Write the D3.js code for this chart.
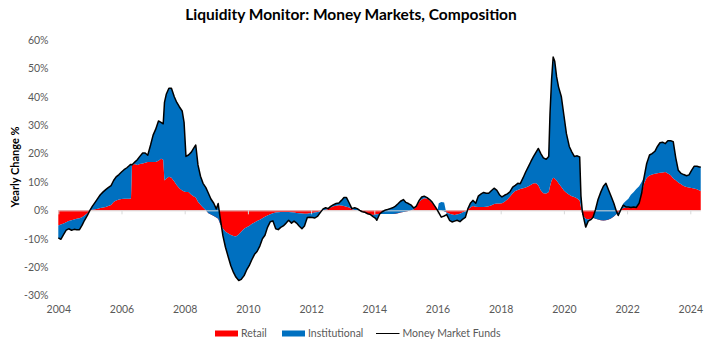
<!DOCTYPE html>
<html><head><meta charset="utf-8">
<script src="https://cdn.jsdelivr.net/npm/d3@7"></script>
<style>
html,body{margin:0;padding:0;background:#fff;}
svg{display:block;font-family:Lato,"Open Sans",sans-serif;}
</style></head>
<body><svg id="c" width="728" height="345"></svg>
<script>
// ---- data (yearly change, %) ----
const dates = [2004.00,2004.08,2004.17,2004.25,2004.33,2004.42,2004.50,2004.58,2004.67,2004.75,2004.83,2004.92,
2005.00,2005.08,2005.17,2005.25,2005.33,2005.42,2005.50,2005.58,2005.67,2005.75,2005.83,2005.92,
2006.00,2006.08,2006.17,2006.25,2006.30,2006.33,2006.42,2006.50,2006.58,2006.67,2006.75,2006.83,2006.92,
2007.00,2007.08,2007.17,2007.25,2007.32,2007.36,2007.42,2007.50,2007.58,2007.67,2007.75,2007.83,2007.92,2007.98,
2008.04,2008.12,2008.21,2008.29,2008.35,2008.42,2008.50,2008.58,2008.67,2008.75,2008.83,2008.92,
2009.00,2009.06,2009.12,2009.21,2009.29,2009.38,2009.46,2009.54,2009.62,2009.71,2009.79,2009.88,2009.96,
2010.04,2010.12,2010.21,2010.29,2010.38,2010.46,2010.54,2010.62,2010.71,2010.79,2010.88,2010.96,
2011.04,2011.12,2011.21,2011.29,2011.38,2011.46,2011.54,2011.62,2011.71,2011.79,2011.88,2011.96,
2012.04,2012.12,2012.21,2012.29,2012.38,2012.46,2012.54,2012.62,2012.71,2012.79,2012.88,2012.96,
2013.04,2013.12,2013.21,2013.29,2013.38,2013.46,2013.54,2013.62,2013.71,2013.79,2013.88,2013.96,
2014.04,2014.08,2014.17,2014.25,2014.33,2014.42,2014.50,2014.58,2014.67,2014.75,2014.83,2014.92,
2015.00,2015.08,2015.17,2015.25,2015.33,2015.42,2015.50,2015.58,2015.67,2015.75,2015.83,2015.92,
2016.00,2016.04,2016.12,2016.21,2016.29,2016.38,2016.46,2016.54,2016.62,2016.71,2016.79,2016.88,2016.96,
2017.04,2017.12,2017.21,2017.29,2017.38,2017.46,2017.54,2017.62,2017.71,2017.79,2017.88,2017.96,
2018.04,2018.12,2018.21,2018.29,2018.38,2018.46,2018.54,2018.62,2018.71,2018.79,2018.88,2018.96,
2019.04,2019.12,2019.19,2019.27,2019.35,2019.44,2019.52,2019.56,2019.61,2019.66,2019.71,2019.77,2019.83,2019.92,
2020.00,2020.08,2020.17,2020.25,2020.33,2020.42,2020.50,2020.54,2020.58,2020.62,2020.69,2020.77,2020.85,2020.92,
2021.00,2021.08,2021.17,2021.25,2021.33,2021.42,2021.50,2021.58,2021.65,2021.72,2021.79,2021.88,2021.96,
2022.04,2022.12,2022.21,2022.29,2022.38,2022.46,2022.54,2022.62,2022.71,2022.79,2022.88,2022.96,
2023.04,2023.12,2023.21,2023.29,2023.38,2023.46,2023.54,2023.62,2023.71,2023.79,2023.88,2023.96,
2024.04,2024.12,2024.21,2024.29,2024.33];

const retail = [-5.3,-5.0,-4.6,-4.2,-3.8,-3.5,-3.2,-3.0,-2.8,-2.4,-1.8,-1.0,
0.0,0.2,0.4,0.6,0.8,1.0,1.2,1.5,1.9,2.9,3.5,3.8,
4.0,4.1,4.1,4.1,4.2,15.8,16.3,16.0,16.3,16.5,16.8,17.0,17.0,
17.0,17.0,17.5,18.2,17.8,10.5,11.2,11.8,11.5,10.2,8.8,7.8,7.0,6.6,
6.5,6.5,5.5,4.9,4.5,3.0,2.0,1.0,0.0,-1.0,-1.5,-2.0,
-2.5,-3.0,-4.7,-6.5,-7.5,-8.2,-8.7,-9.0,-9.2,-8.5,-7.5,-6.5,-6.0,
-5.5,-4.8,-4.3,-3.8,-3.3,-2.8,-2.3,-1.8,-1.4,-1.0,-0.8,-0.7,
-0.6,-0.6,-0.6,-0.6,-0.7,-0.8,-0.9,-1.0,-1.1,-1.2,-1.2,-1.0,
-0.9,-0.8,-0.6,-0.3,0.0,0.2,0.5,1.0,1.4,1.6,1.8,1.7,
1.5,1.3,1.0,0.4,0.1,0.0,-0.2,-0.5,-0.9,-1.3,-1.5,-1.6,
-1.5,-1.4,-1.3,-1.3,-1.3,-1.3,-1.3,-1.3,-1.2,-1.0,-0.8,-0.6,
-0.4,-0.2,0.0,0.4,1.3,3.0,3.8,4.3,4.2,3.5,2.6,1.5,
0.3,0.0,0.0,-0.3,-0.8,-1.2,-1.5,-1.6,-1.5,-1.2,-0.8,-0.3,0.3,
1.0,1.5,1.3,1.2,1.2,1.2,1.3,1.4,1.8,2.2,2.4,2.4,
2.5,3.0,3.8,4.8,6.0,6.8,7.2,7.5,7.8,8.0,8.5,9.0,
9.5,9.5,8.8,7.0,6.0,5.9,6.5,8.5,10.5,11.5,11.2,10.5,9.5,8.2,
7.0,6.2,5.5,5.0,4.7,4.2,3.5,1.0,-1.5,-2.0,-3.0,-3.2,-3.0,-2.6,
-3.0,-3.2,-3.5,-3.6,-3.5,-3.2,-2.8,-2.2,-1.5,-0.8,0.0,0.8,1.0,
1.0,1.0,1.0,1.0,2.5,6.0,9.5,11.5,12.3,12.6,12.9,13.1,
13.2,13.3,13.5,13.0,12.4,11.2,10.6,9.8,9.2,8.6,8.2,8.0,
7.9,7.7,7.4,7.0,6.8];

const institutional = [-4.4,-5.2,-3.9,-2.8,-2.7,-3.5,-3.5,-3.8,-4.0,-2.9,-1.7,-0.8,
0.0,1.3,2.5,3.6,4.7,5.5,6.1,6.5,6.8,7.6,8.3,8.8,
9.5,10.2,10.9,11.7,12.0,0.2,0.7,1.8,2.7,3.7,3.4,2.4,6.0,
9.5,11.5,14.0,12.8,12.7,27.5,29.8,31.2,31.5,29.8,29.2,28.7,28.0,24.4,
12.5,13.0,15.0,17.1,18.5,13.0,10.0,8.5,8.0,7.0,5.5,4.5,
3.0,5.4,2.2,-2.5,-5.5,-8.3,-10.8,-12.8,-14.3,-16.2,-16.8,-16.5,-15.0,
-14.0,-12.7,-11.2,-10.7,-9.2,-7.2,-6.5,-4.2,-2.6,-2.7,-5.7,-6.1,
-5.4,-4.9,-3.9,-2.9,-3.8,-3.0,-3.6,-4.5,-5.4,-4.3,-1.3,-1.4,
-1.6,-1.9,-1.4,-0.5,0.5,0.7,0.1,0.4,0.6,0.8,0.8,1.8,
3.0,3.2,1.5,0.2,0.8,0.6,0.2,0.0,0.2,0.1,0.0,-0.6,
-1.3,-2.1,0.0,0.8,1.3,1.6,1.9,2.2,2.7,3.3,4.0,4.4,
3.2,2.6,1.8,0.4,0.2,0.5,0.9,0.7,0.3,0.3,0.3,-0.1,
-0.3,2.5,2.9,3.1,-0.7,-2.3,-2.6,-2.2,-2.0,-2.8,-2.4,-2.2,0.2,
1.5,2.0,1.2,3.8,4.6,5.1,4.7,4.6,5.2,5.6,4.6,3.1,
2.2,2.3,2.0,1.7,2.2,2.0,2.3,1.9,3.7,5.5,7.0,8.3,
9.5,11.0,13.0,13.0,12.5,12.1,12.5,25.5,35.5,42.5,41.3,36.5,34.0,31.8,
26.5,20.8,17.0,15.6,14.3,15.0,15.3,4.0,1.5,-0.4,-2.9,-0.6,-0.3,0.1,
3.3,7.0,10.0,12.1,13.0,10.2,7.6,4.7,1.5,-1.0,0.0,1.6,2.3,
3.1,4.5,5.5,6.5,6.0,4.0,2.3,5.0,7.2,7.4,7.9,9.4,
10.6,10.7,10.0,11.5,12.1,13.0,7.9,4.3,3.8,4.0,4.0,4.5,
6.2,7.8,8.1,8.3,8.5];

const moneyMarketFunds = [-9.7,-10.2,-8.5,-7.0,-6.5,-7.0,-6.7,-6.8,-6.8,-5.3,-3.5,-1.8,
0.0,1.5,2.9,4.2,5.5,6.5,7.3,8.0,8.7,10.5,11.8,12.6,
13.5,14.3,15.0,15.8,16.2,16.0,17.0,17.8,19.0,20.2,20.2,19.4,23.0,
26.5,28.5,31.5,31.0,30.5,38.0,41.0,43.0,43.0,40.0,38.0,36.5,35.0,31.0,
19.0,19.5,20.5,22.0,23.0,16.0,12.0,9.5,8.0,6.0,4.0,2.5,
0.5,2.4,-2.5,-9.0,-13.0,-16.5,-19.5,-21.8,-23.5,-24.7,-24.3,-23.0,-21.0,
-19.5,-17.5,-15.5,-14.5,-12.5,-10.0,-8.8,-6.0,-4.0,-3.7,-6.5,-6.8,
-6.0,-5.5,-4.5,-3.5,-4.5,-3.8,-4.5,-5.5,-6.5,-5.5,-2.5,-2.4,
-2.5,-2.7,-2.0,-0.8,0.5,0.9,0.6,1.4,2.0,2.4,2.6,3.5,
4.5,4.5,2.5,0.6,0.9,0.6,0.0,-0.5,-0.7,-1.2,-1.5,-2.2,
-2.8,-3.5,-1.3,-0.5,0.0,0.3,0.6,0.9,1.5,2.3,3.2,3.8,
2.8,2.4,1.8,0.8,1.5,3.5,4.7,5.0,4.5,3.8,2.9,1.4,
0.0,-0.8,-2.4,-2.0,-1.5,-3.5,-4.1,-3.8,-3.5,-4.0,-3.2,-2.5,0.5,
2.5,3.5,2.5,5.0,5.8,6.3,6.0,6.0,7.0,7.8,7.0,5.5,
4.7,5.3,5.8,6.5,8.2,8.8,9.5,9.4,11.5,13.5,15.5,17.3,
19.0,20.5,21.8,20.0,18.5,18.0,19.0,34.0,46.0,54.0,52.5,47.0,43.5,40.0,
33.5,27.0,22.5,20.6,19.0,19.2,18.8,5.0,0.0,-2.4,-5.9,-3.8,-3.3,-2.5,
0.3,3.8,6.5,8.5,9.5,7.0,4.8,2.5,0.0,-1.8,0.0,1.8,1.2,
1.2,1.0,1.2,1.0,2.5,6.0,11.8,16.5,19.5,20.0,20.8,22.5,
23.8,24.0,23.5,24.5,24.5,24.2,18.5,14.1,13.0,12.6,12.2,12.5,
14.1,15.5,15.5,15.3,15.3];

const yTicks = [-30,-20,-10,0,10,20,30,40,50,60];
const xTicks = [2004,2006,2008,2010,2012,2014,2016,2018,2020,2022,2024];
const seriesNames = ["Retail","Institutional","Money Market Funds"];
const colors = {retail:"#FF0000", institutional:"#0070C0", line:"#000000"};

// ---- chart ----
const svg = d3.select("#c");
const x = d3.scaleLinear().domain([2004, 2024]).range([58.3, 690.3]);
const y = d3.scaleLinear().domain([-30, 60]).range([295.5, 40]);

const rows = dates.map((d,i)=>({date:d, retail:retail[i], institutional:institutional[i]}));
const stacked = d3.stack().keys(["retail","institutional"]).offset(d3.stackOffsetNone)(rows);

const area = d3.area()
  .x(d=>x(d.data.date))
  .y0(d=>y(d[0]))
  .y1(d=>y(d[1]));

svg.append("g").selectAll("path").data(stacked).join("path")
  .attr("d", area)
  .attr("fill", d=>colors[d.key]);

// x axis (zero line)
const xAxis = d3.axisBottom(x).tickValues(xTicks).tickFormat("").tickSize(4).tickSizeOuter(0);
const gx = svg.append("g").attr("transform",`translate(0,${y(0)})`).call(xAxis);
gx.select(".domain").attr("stroke","#d9d9d9").attr("d",`M${x(2004)},0.5H${x(dates[dates.length-1])}`);
gx.selectAll(".tick line").attr("stroke","#d9d9d9");

// black line
const line = d3.line().x((d,i)=>x(dates[i])).y(d=>y(d));
svg.append("path").datum(moneyMarketFunds)
  .attr("d", line).attr("fill","none").attr("stroke",colors.line)
  .attr("stroke-width",1.5).attr("stroke-linejoin","round");

// x tick labels at bottom
const gxl = svg.append("g").attr("transform","translate(0,313)")
  .call(d3.axisBottom(x).tickValues(xTicks).tickFormat(d3.format("d")).tickSize(0).tickPadding(0));
gxl.select(".domain").remove();
gxl.selectAll("text").attr("fill","#595959").attr("font-size","10.5px")
  .attr("font-family","Lato, sans-serif").attr("dy","0").attr("y",0);

// y axis labels
const gy = svg.append("g").attr("transform","translate(48.5,0)")
  .call(d3.axisLeft(y).tickValues(yTicks).tickFormat(d=>d+"%").tickSize(0).tickPadding(0));
gy.select(".domain").remove();
gy.selectAll("text").attr("fill","#595959").attr("font-size","10.5px").attr("font-family","Lato, sans-serif");

// title
svg.append("text").attr("x",351).attr("y",20).attr("text-anchor","middle")
  .attr("font-size","15.5px").attr("font-weight","bold").attr("fill","#000")
  .text("Liquidity Monitor: Money Markets, Composition");

// y label
svg.append("text").attr("transform","translate(19,167) rotate(-90)").attr("text-anchor","middle")
  .attr("font-size","11px").attr("font-weight","bold").attr("fill","#000")
  .text("Yearly Change %");

// legend
const lg = svg.append("g").attr("font-size","10.5px").attr("fill","#595959");
lg.append("rect").attr("x",215).attr("y",330.5).attr("width",23).attr("height",6).attr("fill",colors.retail);
lg.append("text").attr("x",241).attr("y",337).text(seriesNames[0]);
lg.append("rect").attr("x",282).attr("y",330.5).attr("width",23).attr("height",6).attr("fill",colors.institutional);
lg.append("text").attr("x",308).attr("y",337).text(seriesNames[1]);
lg.append("line").attr("x1",376).attr("x2",399.5).attr("y1",333.5).attr("y2",333.5).attr("stroke","#000").attr("stroke-width",1);
lg.append("text").attr("x",402.5).attr("y",337).text(seriesNames[2]);
</script></body></html>
